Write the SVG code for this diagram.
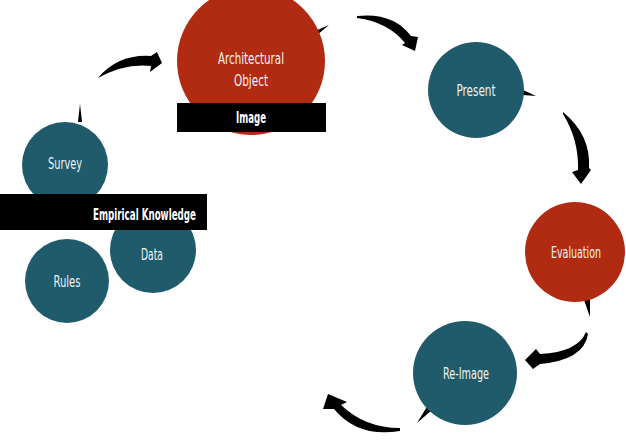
<svg xmlns="http://www.w3.org/2000/svg" width="626" height="445" viewBox="0 0 626 445">
<style>
.teal{fill:#205B6B}
.red{fill:#B02B12}
.bar{fill:#000}
.lbl{font-family:"DejaVu Sans Condensed","DejaVu Sans",sans-serif;font-size:16px;fill:#EEF3F3;text-anchor:middle}
.blbl{font-family:"DejaVu Sans Condensed","DejaVu Sans",sans-serif;font-size:15px;font-weight:bold;fill:#fff;text-anchor:middle}
.arr{fill:#000}
</style>
<rect width="626" height="445" fill="#fff"/>
<g id="connectors">
<path class="arr" d="M98,78 Q118,54 151,56 L157,52 L162,63 L150,72 L151,66 Q125,63 98,78 Z"/>
<path class="arr" d="M357,16 Q393,12 411,36 L418,37 L415,51 L402,45 L405,43 Q388,22 357,18 Z"/>
<path class="arr" d="M563,112 Q591,135 589,168 L591,170 L581,184 L572,172 L578,170 Q579,140 563,114 Z"/>
<path class="arr" d="M586,332 Q578,352 540,354 L536,349 L525,360 L533,369 L540,364 Q584,360 588,334 Z"/>
<path class="arr" d="M400,431 Q358,438 334,409 L323,409 L328,394 L347,402 L341,405 Q365,428 400,428 Z"/>
<path class="arr" d="M80,104 L78,122 L82,122 Z"/>
<path class="arr" d="M315,31 L329,25 L317,35 Z"/>
<path class="arr" d="M523,90 L536,96 L523,95 Z"/>
<path class="arr" d="M584,300 L590,317 L590,300 Z"/>
<path class="arr" d="M428,405 L417,423 L432,410 Z"/>
</g>
<g id="architectural-object">
<circle class="red" cx="251" cy="61" r="74"/>
<text class="lbl" x="251" y="64" textLength="66" lengthAdjust="spacingAndGlyphs">Architectural</text>
<text class="lbl" x="251" y="86" textLength="34" lengthAdjust="spacingAndGlyphs">Object</text>
</g>
<g id="image">
<rect class="bar" x="177" y="103" width="149" height="29"/>
<text class="blbl" x="251" y="123" textLength="30" lengthAdjust="spacingAndGlyphs">Image</text>
</g>
<g id="present">
<circle class="teal" cx="476" cy="90" r="48"/>
<text class="lbl" x="476" y="96" textLength="39" lengthAdjust="spacingAndGlyphs">Present</text>
</g>
<g id="evaluation">
<circle class="red" cx="575" cy="252" r="50"/>
<text class="lbl" x="576" y="258" textLength="50" lengthAdjust="spacingAndGlyphs">Evaluation</text>
</g>
<g id="re-image">
<circle class="teal" cx="465" cy="373" r="52"/>
<text class="lbl" x="466" y="379" textLength="46" lengthAdjust="spacingAndGlyphs">Re-Image</text>
</g>
<g id="survey">
<circle class="teal" cx="65" cy="165" r="43"/>
<text class="lbl" x="65" y="169" textLength="34" lengthAdjust="spacingAndGlyphs">Survey</text>
</g>
<g id="data">
<circle class="teal" cx="153" cy="250" r="43"/>
<text class="lbl" x="152" y="260" textLength="22" lengthAdjust="spacingAndGlyphs">Data</text>
</g>
<g id="rules">
<circle class="teal" cx="67" cy="281" r="42"/>
<text class="lbl" x="67" y="287" textLength="27" lengthAdjust="spacingAndGlyphs">Rules</text>
</g>
<g id="empirical-knowledge">
<rect class="bar" x="0" y="194" width="207" height="36"/>
<text class="blbl" x="144.5" y="220" textLength="103" lengthAdjust="spacingAndGlyphs">Empirical Knowledge</text>
</g>
</svg>
